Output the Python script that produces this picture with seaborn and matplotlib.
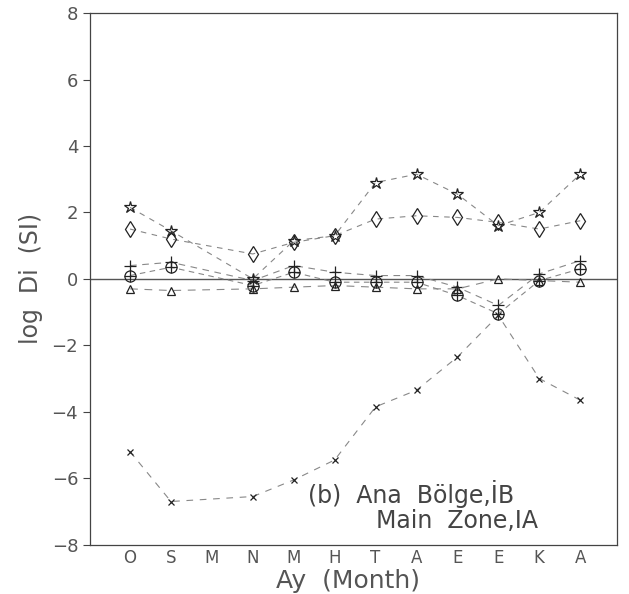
import numpy as np
import pandas as pd
import seaborn as sns
import matplotlib.pyplot as plt

# months (Turkish initials), third month has no measurements
months = ['O', 'S', 'M', 'N', 'M', 'H', 'T', 'A', 'E', 'E', 'K', 'A']
nan = np.nan

star = [2.15, 1.45, nan, 0.0, 1.15, 1.3, 2.9, 3.15, 2.55, 1.6, 2.0, 3.15]
diamond = [1.5, 1.2, nan, 0.75, 1.1, 1.3, 1.8, 1.9, 1.85, 1.7, 1.5, 1.75]
cross_low = [-5.2, -6.7, nan, -6.55, -6.05, -5.45, -3.85, -3.35, -2.35, -1.1, -3.0, -3.65]
circ = [0.1, 0.35, nan, -0.2, 0.2, -0.1, -0.1, -0.1, -0.5, -1.05, -0.05, 0.3]
plus = [0.4, 0.5, nan, -0.05, 0.4, 0.2, 0.1, 0.1, -0.25, -0.8, 0.15, 0.55]
tri = [-0.3, -0.35, nan, -0.3, -0.25, -0.2, -0.25, -0.3, -0.3, 0.0, -0.05, -0.1]

rows = []
for name, vals in [('star', star), ('diamond', diamond), ('x', cross_low),
                   ('circ', circ), ('plus', plus), ('tri', tri)]:
    for i, v in enumerate(vals):
        rows.append({'series': name, 'pos': i, 'val': v})
df = pd.DataFrame(rows).dropna()

sns.set_style('white')
plt.rcParams['font.family'] = ['DejaVu Sans']

fig = plt.figure(figsize=(6.29, 5.94), dpi=100)
ax = fig.add_axes([0.143, 0.083, 0.838, 0.895])

ax.axhline(0, color='#555555', lw=1.0, zorder=1)

styles = {
    'star': dict(marker='*', ms=9, dashes=(5, 5)),
    'diamond': dict(marker='d', ms=8, dashes=(5, 5)),
    'x': dict(marker='x', ms=4, dashes=(6, 6)),
    'circ': dict(marker='o', ms=8, dashes=(5, 4)),
    'plus': dict(marker='+', ms=9, dashes=(6, 5)),
    'tri': dict(marker='^', ms=6, dashes=(7, 6)),
}
for name, st in styles.items():
    sub = df[df.series == name]
    sns.lineplot(data=sub, x='pos', y='val', ax=ax, color='#888888', lw=0.8,
                 marker=st['marker'], markersize=st['ms'], dashes=False,
                 markerfacecolor='none', markeredgecolor='#222222',
                 markeredgewidth=0.9, legend=False, zorder=3)
    ax.lines[-1].set_dashes(st['dashes'])
# plus inside the circles
sub = df[df.series == 'circ']
ax.plot(sub.pos, sub.val, ls='none', marker='+', ms=8, mec='#222222', mew=0.9, zorder=4)

ax.set_xlim(-0.98, 11.9)
ax.set_ylim(-8, 8)
ax.set_xticks(range(len(months)))
ax.set_xticklabels(months)
ax.set_yticks(range(-8, 9, 2))
ax.tick_params(axis='y', direction='out', length=5, color='#444444',
               labelsize=13, labelcolor='#555555', left=True)
ax.tick_params(axis='x', length=0, labelsize=12, labelcolor='#555555', pad=3)
for s in ax.spines.values():
    s.set_color('#444444')
    s.set_linewidth(0.9)

ax.set_xlabel('Ay  (Month)', fontsize=18, color='#555555')
ax.xaxis.set_label_coords(0.49, -0.045)
ax.set_ylabel('log  Di  (SI)', fontsize=17, color='#555555', labelpad=6)

ax.text(4.35, -6.48, '(b)  Ana  Bölge,İB', fontsize=17, color='#444444', ha='left', va='center')
ax.text(6.0, -7.28, 'Main  Zone,IA', fontsize=17, color='#444444', ha='left', va='center')

fig.savefig('out.png', dpi=100)
